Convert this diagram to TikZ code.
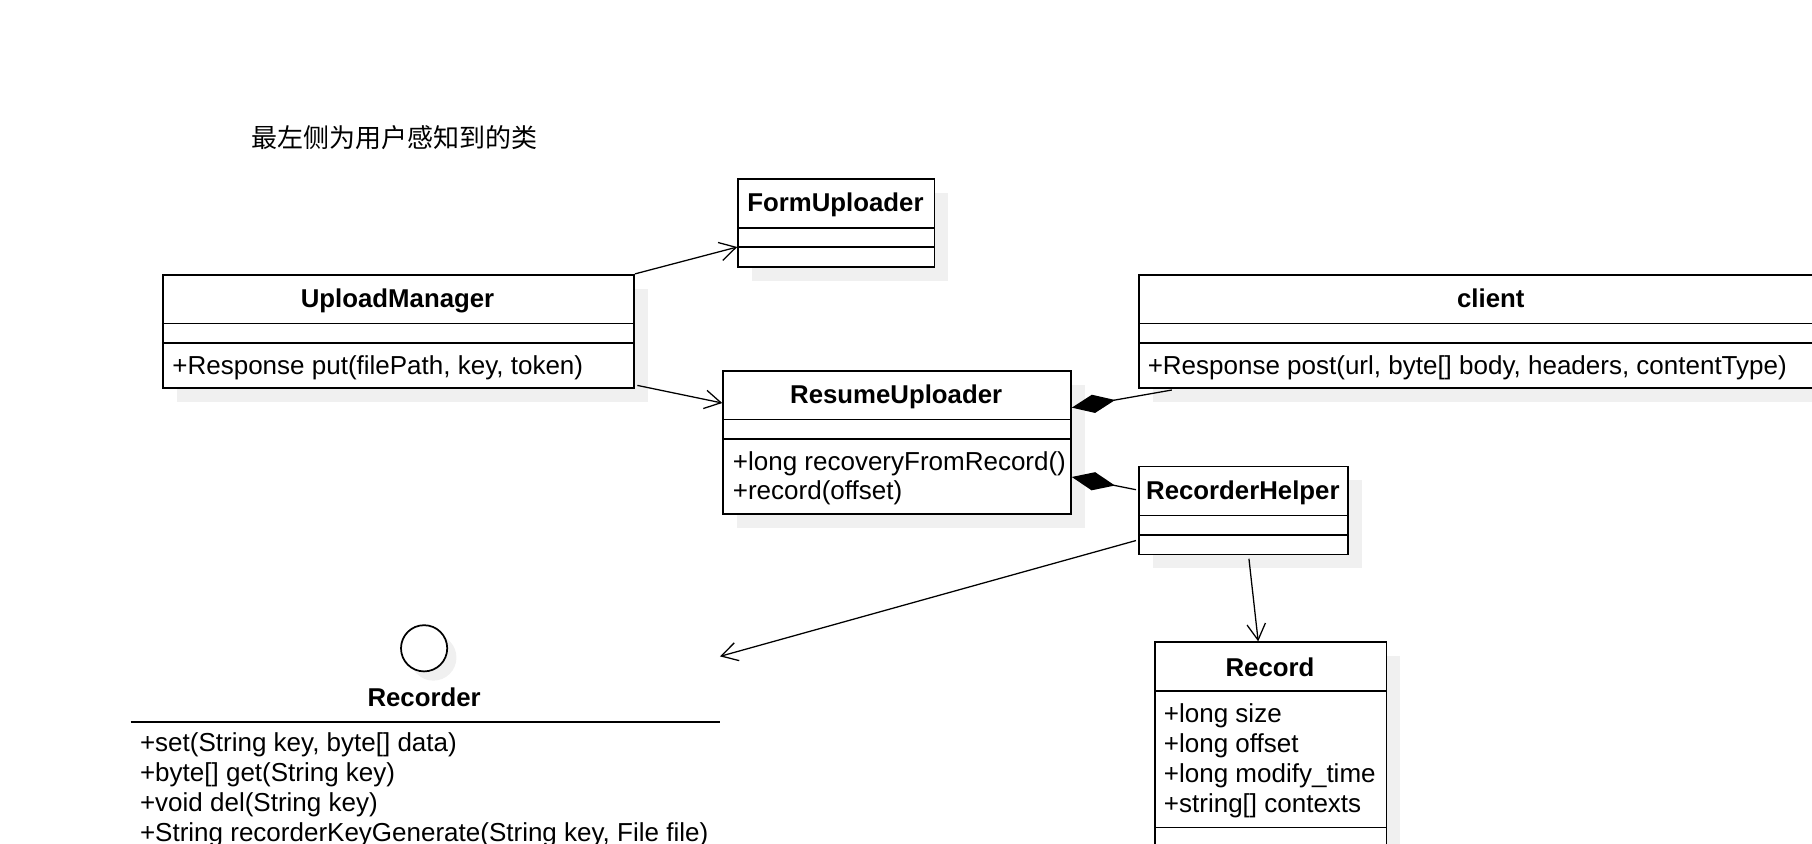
\documentclass[tikz,border=0pt]{standalone}
\usepackage{fontspec}
\setmainfont{Liberation Sans}
\newfontfamily\cjk{Noto Sans CJK SC}
\usetikzlibrary{arrows.meta,shadows}
\tikzset{
  txt/.style={inner sep=0pt, font=\fontsize{22.5}{26}\selectfont},
  ttl/.style={txt, anchor=base, font=\fontsize{22.3}{26}\selectfont\bfseries},
  mth/.style={txt, anchor=base west},
  cls/.style={draw, line width=1.5pt, fill=white, anchor=north west, inner sep=0pt,
    drop shadow={shadow xshift=12pt, shadow yshift=-12pt, fill=black!6, opacity=1}},
  sepline/.style={line width=1.5pt},
  assoc/.style={line width=1.1pt, -{Straight Barb[length=14pt,width=16pt,line width=1.1pt]}},
  compo/.style={line width=1.1pt, -{Diamond[length=38pt,width=16pt,fill=black]}},
}
\begin{document}
\begin{tikzpicture}[x=1pt,y=-1pt]
\useasboundingbox (0,0) rectangle (1568,730);
\clip (0,0) rectangle (1568,730);

% title
\node[txt, anchor=base, font=\fontsize{22.5}{26}\selectfont\cjk] (title) at (341,128) {最左侧为用户感知到的类};

% FormUploader
\node[cls, minimum width=170pt, minimum height=76pt] (fu) at (638,154) {};
\draw[sepline] (638,197) -- (808,197) (638,214) -- (808,214);
\node[ttl] (fut) at (723,183) {FormUploader};

% UploadManager
\node[cls, minimum width=408pt, minimum height=98pt] (um) at (140,237) {};
\draw[sepline] (140,280) -- (548,280) (140,297) -- (548,297);
\node[ttl] (umt) at (344,266) {UploadManager};
\node[mth] (umm) at (149,324) {+Response put(filePath, key, token)};

% client
\node[cls, minimum width=610pt, minimum height=98pt] (cl) at (985,237) {};
\draw[sepline] (985,280) -- (1595,280) (985,297) -- (1595,297);
\node[ttl] (clt) at (1290,266) {client};
\node[mth] (clm) at (993,324) {+Response post(url, byte[] body, headers, contentType)};

% ResumeUploader
\node[cls, minimum width=301pt, minimum height=124pt] (ru) at (625,320) {};
\draw[sepline] (625,363) -- (926,363) (625,380) -- (926,380);
\node[ttl] (rut) at (775.5,349) {ResumeUploader};
\node[mth] (rum1) at (634,407) {+long recoveryFromRecord()};
\node[mth] (rum2) at (634,432) {+record(offset)};

% RecorderHelper
\node[cls, minimum width=181pt, minimum height=76pt] (rh) at (985,403) {};
\draw[sepline] (985,446) -- (1166,446) (985,463) -- (1166,463);
\node[ttl] (rht) at (1075.5,432) {RecorderHelper};

% Record
\node[cls, minimum width=200pt, minimum height=215pt] (rec) at (999,555) {};
\draw[sepline] (999,598) -- (1199,598) (999,716) -- (1199,716);
\node[ttl] (rect) at (1099,585) {Record};
\node[mth] (reca1) at (1007,625) {+long size};
\node[mth] (reca2) at (1007,651) {+long offset};
\node[mth] (reca3) at (1007,677) {+long modify\_time};
\node[mth] (reca4) at (1007,703) {+string[] contexts};

% Recorder (interface)
\node[circle, draw, line width=1.5pt, fill=white, minimum size=40pt, inner sep=0pt,
  drop shadow={shadow xshift=8pt, shadow yshift=-8pt, fill=black!6, opacity=1}] (rc) at (367,561) {};
\node[ttl] (rct) at (367,611) {Recorder};
\draw[sepline] (113,625) -- (623,625);
\node[mth] (rcm1) at (121,650) {+set(String key, byte[] data)};
\node[mth] (rcm2) at (121,676) {+byte[] get(String key)};
\node[mth] (rcm3) at (121,702) {+void del(String key)};
\node[mth] (rcm4) at (121,728) {+String recorderKeyGenerate(String key, File file)};
\coordinate (rcend) at (623,568);

% connectors
\draw[assoc] (um.north east) -- ([yshift=-21pt]fu.west);
\draw[assoc] ([xshift=2pt,yshift=3pt]um.south east) -- ([yshift=34pt]ru.west);
\draw[compo] ([xshift=29pt,yshift=-1pt]cl.south west) -- ([yshift=30pt]ru.east);
\draw[compo] ([xshift=-2pt,yshift=18pt]rh.west) -- ([yshift=-30pt]ru.east);
\draw[assoc] ([xshift=-2pt,yshift=-26pt]rh.west) -- (rcend);
\draw[assoc] ([xshift=4.5pt,yshift=-3pt]rh.south) -- ([xshift=-11pt]rec.north);
\end{tikzpicture}
\end{document}
